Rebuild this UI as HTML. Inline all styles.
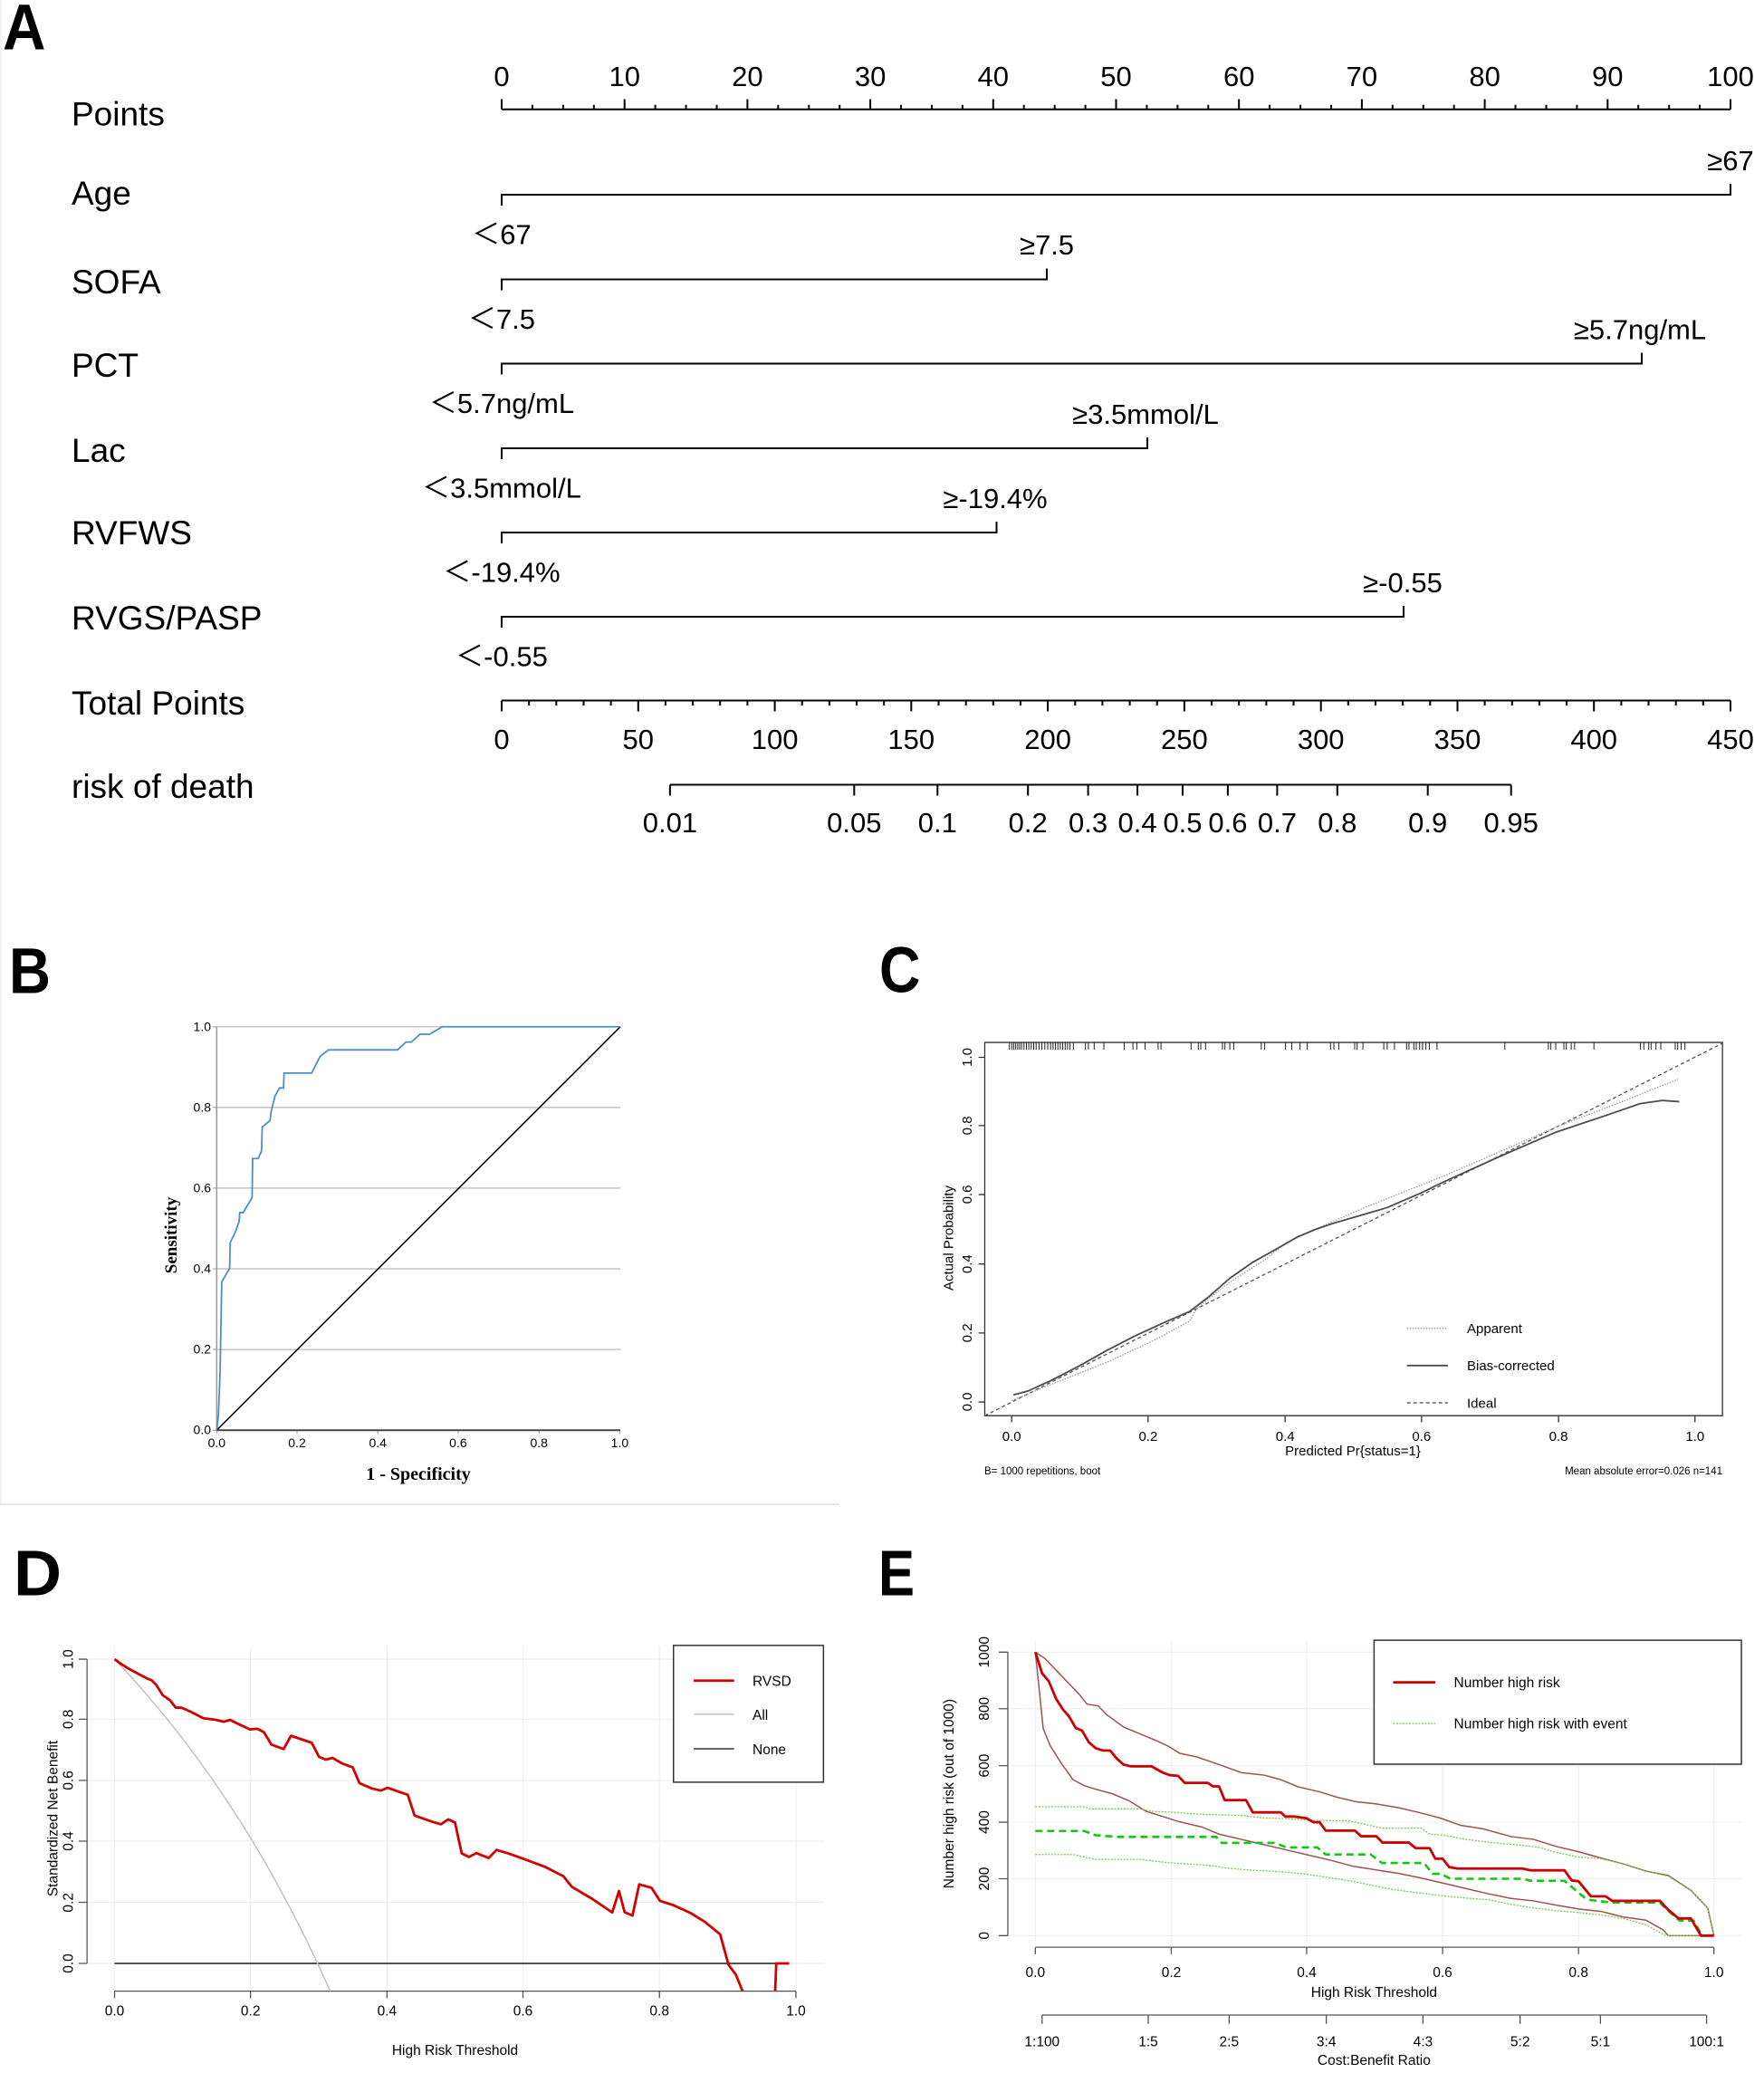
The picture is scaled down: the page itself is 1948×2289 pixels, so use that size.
<!DOCTYPE html>
<html><head><meta charset="utf-8"><style>
html,body{margin:0;padding:0;background:#fff;}
svg{display:block;}
text{font-family:"Liberation Sans","Noto Sans CJK SC",sans-serif;fill:#000;}
.z *{vector-effect:non-scaling-stroke;}
.serif{font-family:"Liberation Serif",serif;font-weight:bold;}
</style></head><body>
<svg width="1948" height="2289" viewBox="0 0 1948 2289" xmlns="http://www.w3.org/2000/svg">
<rect width="1948" height="2289" fill="#fff"/>
<line x1="1" y1="0" x2="1" y2="1662" stroke="#eeeeee" stroke-width="1.5"/>

<!-- Panel letters -->
<text x="3" y="54.3" font-size="71" font-weight="bold" textLength="47.5" lengthAdjust="spacingAndGlyphs">A</text>
<text x="10" y="1096.7" font-size="71" font-weight="bold" textLength="46" lengthAdjust="spacingAndGlyphs">B</text>
<text x="971" y="1095.5" font-size="71" font-weight="bold" textLength="45.5" lengthAdjust="spacingAndGlyphs">C</text>
<text x="15" y="1761.5" font-size="71" font-weight="bold" textLength="53" lengthAdjust="spacingAndGlyphs">D</text>
<text x="970" y="1761.5" font-size="71" font-weight="bold" textLength="40" lengthAdjust="spacingAndGlyphs">E</text>

<!-- ================= Panel A: nomogram ================= -->
<g font-size="37">
<text x="79" y="138.5">Points</text>
<text x="79" y="226">Age</text>
<text x="79" y="324">SOFA</text>
<text x="79" y="416">PCT</text>
<text x="79" y="510">Lac</text>
<text x="79" y="601">RVFWS</text>
<text x="79" y="695">RVGS/PASP</text>
<text x="79" y="789">Total Points</text>
<text x="79" y="881">risk of death</text>
</g>
<g stroke="#000" stroke-width="2" fill="none">
<!-- Points axis -->
<line x1="554" y1="120.7" x2="1911" y2="120.7"/>
<path d="M554,120.7V109.5 M689.7,120.7V109.5 M825.4,120.7V109.5 M961.1,120.7V109.5 M1096.8,120.7V109.5 M1232.5,120.7V109.5 M1368.2,120.7V109.5 M1503.9,120.7V109.5 M1639.6,120.7V109.5 M1775.3,120.7V109.5 M1911,120.7V109.5"/>
<path d="M587.9,120.7v-5 M621.9,120.7v-5 M655.8,120.7v-5 M723.6,120.7v-5 M757.6,120.7v-5 M791.5,120.7v-5 M859.3,120.7v-5 M893.3,120.7v-5 M927.2,120.7v-5 M995,120.7v-5 M1029,120.7v-5 M1062.9,120.7v-5 M1130.7,120.7v-5 M1164.7,120.7v-5 M1198.6,120.7v-5 M1266.4,120.7v-5 M1300.4,120.7v-5 M1334.3,120.7v-5 M1402.1,120.7v-5 M1436.1,120.7v-5 M1470,120.7v-5 M1537.8,120.7v-5 M1571.8,120.7v-5 M1605.7,120.7v-5 M1673.5,120.7v-5 M1707.5,120.7v-5 M1741.4,120.7v-5 M1809.2,120.7v-5 M1843.2,120.7v-5 M1877.1,120.7v-5"/>
<!-- variables -->
<path d="M554,227V215H1911V203"/>
<path d="M554,320.5V308.5H1156V296.5"/>
<path d="M554,413.5V401.5H1813V389.5"/>
<path d="M554,507V495H1267V483"/>
<path d="M554,600V588H1100.5V576"/>
<path d="M554,693V681H1550V669"/>
<!-- Total points -->
<line x1="554" y1="773.5" x2="1911" y2="773.5"/>
<path d="M554,773.5v12 M704.8,773.5v12 M855.6,773.5v12 M1006.3,773.5v12 M1157.1,773.5v12 M1307.9,773.5v12 M1458.7,773.5v12 M1609.5,773.5v12 M1760.2,773.5v12 M1911,773.5v12"/>
<path d="M584.2,773.5v5.5 M614.3,773.5v5.5 M644.5,773.5v5.5 M674.6,773.5v5.5 M734.9,773.5v5.5 M765.1,773.5v5.5 M795.2,773.5v5.5 M825.4,773.5v5.5 M885.7,773.5v5.5 M915.9,773.5v5.5 M946,773.5v5.5 M976.2,773.5v5.5 M1036.5,773.5v5.5 M1066.7,773.5v5.5 M1096.8,773.5v5.5 M1127,773.5v5.5 M1187.3,773.5v5.5 M1217.4,773.5v5.5 M1247.6,773.5v5.5 M1277.7,773.5v5.5 M1338.1,773.5v5.5 M1368.2,773.5v5.5 M1398.4,773.5v5.5 M1428.5,773.5v5.5 M1488.8,773.5v5.5 M1519,773.5v5.5 M1549.1,773.5v5.5 M1579.3,773.5v5.5 M1639.6,773.5v5.5 M1669.8,773.5v5.5 M1699.9,773.5v5.5 M1730.1,773.5v5.5 M1790.4,773.5v5.5 M1820.5,773.5v5.5 M1850.7,773.5v5.5 M1880.8,773.5v5.5"/>
<!-- risk -->
<line x1="739.9" y1="866.5" x2="1668.7" y2="866.5"/>
<path d="M739.9,866.5v12 M943.3,866.5v12 M1035.3,866.5v12 M1135.2,866.5v12 M1201.6,866.5v12 M1256.1,866.5v12 M1306,866.5v12 M1355.9,866.5v12 M1410.4,866.5v12 M1476.8,866.5v12 M1576.7,866.5v12 M1668.7,866.5v12"/>
</g>
<g font-size="31" text-anchor="middle">
<text x="554" y="95">0</text><text x="689.7" y="95">10</text><text x="825.4" y="95">20</text><text x="961.1" y="95">30</text><text x="1096.8" y="95">40</text><text x="1232.5" y="95">50</text><text x="1368.2" y="95">60</text><text x="1503.9" y="95">70</text><text x="1639.6" y="95">80</text><text x="1775.3" y="95">90</text><text x="1911" y="95">100</text>
<text x="1911" y="188">≥67</text>
<text x="554" y="269.5">＜67</text>
<text x="1156" y="281">≥7.5</text>
<text x="554" y="363">＜7.5</text>
<text x="1811" y="374.5">≥5.7ng/mL</text>
<text x="554" y="456">＜5.7ng/mL</text>
<text x="1265" y="468">≥3.5mmol/L</text>
<text x="554" y="549.5">＜3.5mmol/L</text>
<text x="1099" y="561">≥-19.4%</text>
<text x="554" y="642.5">＜-19.4%</text>
<text x="1549" y="654">≥-0.55</text>
<text x="554" y="735.5">＜-0.55</text>
<text x="554" y="827">0</text><text x="704.8" y="827">50</text><text x="855.6" y="827">100</text><text x="1006.3" y="827">150</text><text x="1157.1" y="827">200</text><text x="1307.9" y="827">250</text><text x="1458.7" y="827">300</text><text x="1609.5" y="827">350</text><text x="1760.2" y="827">400</text><text x="1911" y="827">450</text>
<text x="739.9" y="919">0.01</text><text x="943.3" y="919">0.05</text><text x="1035.3" y="919">0.1</text><text x="1135.2" y="919">0.2</text><text x="1201.6" y="919">0.3</text><text x="1256.1" y="919">0.4</text><text x="1306" y="919">0.5</text><text x="1355.9" y="919">0.6</text><text x="1410.4" y="919">0.7</text><text x="1476.8" y="919">0.8</text><text x="1576.7" y="919">0.9</text><text x="1668.7" y="919">0.95</text>
</g>

<!-- ================= Panel B: ROC ================= -->
<g stroke="#c4c4c4" stroke-width="1.5">
<line x1="239.3" y1="1133.8" x2="685" y2="1133.8"/>
<line x1="239.3" y1="1222.9" x2="685" y2="1222.9"/>
<line x1="239.3" y1="1311.9" x2="685" y2="1311.9"/>
<line x1="239.3" y1="1401" x2="685" y2="1401"/>
<line x1="239.3" y1="1490.1" x2="685" y2="1490.1"/>
</g>
<line x1="239.3" y1="1133.8" x2="239.3" y2="1579.2" stroke="#9a9a9a" stroke-width="1.5"/>
<g stroke="#9a9a9a" stroke-width="1">
<path d="M235,1133.8h4.3 M235,1222.9h4.3 M235,1311.9h4.3 M235,1401h4.3 M235,1490.1h4.3 M235,1579.2h4.3"/>
<path d="M239.3,1579.2v4 M328,1579.2v4 M417.2,1579.2v4 M505.9,1579.2v4 M595.2,1579.2v4 M684.4,1579.2v4"/>
</g>
<line x1="239.3" y1="1579.2" x2="685" y2="1579.2" stroke="#444" stroke-width="2"/>
<line x1="239.3" y1="1579.2" x2="685" y2="1133.8" stroke="#000" stroke-width="1.5"/>
<g class="z" transform="translate(0,1000) scale(0.62,0.4329)">
<polyline fill="none" stroke="#4a8fc8" stroke-width="1.8" points="386,1338 389,1300 392,1190 395,960 409,925 410,860 420,830 426,805 427,783 433,783 449,745 450,645 460,645 466,625 467,565 481,548 483,525 490,485 498,465 505,465 506,427 555,427 570,385 585,368 708,368 723,348 733,348 748,328 765,328 788,309 1104,309"/>
</g>
<g font-size="14" text-anchor="end" fill="#222">
<text x="233" y="1138.5">1.0</text>
<text x="233" y="1227.5">0.8</text>
<text x="233" y="1316.5">0.6</text>
<text x="233" y="1405.5">0.4</text>
<text x="233" y="1494.5">0.2</text>
<text x="233" y="1583.5">0.0</text>
</g>
<g font-size="14" text-anchor="middle">
<text x="239.3" y="1598">0.0</text><text x="328" y="1598">0.2</text><text x="417.2" y="1598">0.4</text><text x="505.9" y="1598">0.6</text><text x="595.2" y="1598">0.8</text><text x="684.4" y="1598">1.0</text>
</g>
<text class="serif" font-size="19" text-anchor="middle" transform="translate(195,1364) rotate(-90)">Sensitivity</text>
<text class="serif" font-size="20" text-anchor="middle" x="462" y="1634">1 - Specificity</text>
<line x1="0" y1="1661" x2="927" y2="1661" stroke="#e8e8e8" stroke-width="2"/>

<!-- ================= Panel C: calibration ================= -->
<g class="z" transform="translate(974,1000) scale(0.62,0.4329)" fill="none">
<rect x="183" y="349" width="1314" height="952" stroke="#333" stroke-width="1.3"/>
<path stroke="#333" stroke-width="1.3" d="M231,1301V1318 M474,1301V1318 M718,1301V1318 M961,1301V1318 M1205,1301V1318 M1448,1301V1318 M183,1266H172 M183,1090H172 M183,914H172 M183,737H172 M183,561H172 M183,387H172"/>
<line x1="183" y1="1301" x2="1497" y2="351" stroke="#555" stroke-width="1.3" stroke-dasharray="4,3"/>
<polyline stroke="#9d9d9d" stroke-width="1.3" stroke-dasharray="1.5,1.5" points="231,1262 300,1222 400,1165 480,1112 548,1060 560,1030 580,1005 620,960 680,905 720,860 780,820 860,770 1000,690 1100,628 1200,565 1300,510 1418,443"/>
<polyline stroke="#4d4d4d" stroke-width="1.8" points="234,1248 260,1238 300,1212 350,1175 400,1135 450,1098 500,1065 548,1035 580,1000 620,950 660,910 700,878 740,845 770,827 800,812 900,770 960,733 1000,705 1100,640 1200,578 1300,530 1350,505 1390,497 1420,500"/>
<line x1="935" y1="1078" x2="1008" y2="1078" stroke="#9d9d9d" stroke-width="1.3" stroke-dasharray="1.5,1.5"/>
<line x1="935" y1="1173" x2="1008" y2="1173" stroke="#4d4d4d" stroke-width="1.8"/>
<line x1="935" y1="1268" x2="1008" y2="1268" stroke="#555" stroke-width="1.3" stroke-dasharray="4,3"/>
</g>
<path stroke="#222" stroke-width="1" fill="none" d="M1114.8,1151v8 M1117.4,1151v8 M1119.6,1151v8 M1121.7,1151v8 M1123.9,1151v8 M1126,1151v8 M1128.1,1151v8 M1130.8,1151v8 M1133.5,1151v8 M1136.1,1151v8 M1138.8,1151v8 M1141.5,1151v8 M1144.2,1151v8 M1147.4,1151v8 M1150.6,1151v8 M1153.8,1151v8 M1157,1151v8 M1160.2,1151v8 M1162.9,1151v8 M1165.6,1151v8 M1168.2,1151v8 M1170.9,1151v8 M1173.6,1151v8 M1176.3,1151v8 M1178.9,1151v8 M1181.6,1151v8 M1185.3,1151v8 M1198.7,1151v8 M1201.9,1151v8 M1208.3,1151v8 M1219,1151v8 M1241.5,1151v8 M1251.1,1151v8 M1255.4,1151v8 M1264.5,1151v8 M1278.9,1151v8 M1282.1,1151v8 M1315.3,1151v8 M1323.3,1151v8 M1326,1151v8 M1331.3,1151v8 M1350,1151v8 M1352.7,1151v8 M1358.1,1151v8 M1362.4,1151v8 M1392.8,1151v8 M1396.6,1151v8 M1419.6,1151v8 M1426.5,1151v8 M1435.6,1151v8 M1443.6,1151v8 M1469.3,1151v8 M1473,1151v8 M1478.4,1151v8 M1496,1151v8 M1498.7,1151v8 M1505.1,1151v8 M1528.1,1151v8 M1531.9,1151v8 M1539.9,1151v8 M1553.3,1151v8 M1555.9,1151v8 M1561.3,1151v8 M1564,1151v8 M1567.7,1151v8 M1570.9,1151v8 M1574.6,1151v8 M1578.4,1151v8 M1586.9,1151v8 M1661.8,1151v8 M1709.9,1151v8 M1712.6,1151v8 M1718,1151v8 M1727,1151v8 M1729.7,1151v8 M1735.1,1151v8 M1738.8,1151v8 M1760.2,1151v8 M1811.6,1151v8 M1815.3,1151v8 M1820.7,1151v8 M1823.3,1151v8 M1828.7,1151v8 M1834,1151v8 M1850,1151v8 M1852.7,1151v8 M1856.5,1151v8 M1860.7,1151v8"/>
<g font-size="15" text-anchor="middle">
<text transform="translate(1073,1548) rotate(-90)">0.0</text>
<text transform="translate(1073,1471.9) rotate(-90)">0.2</text>
<text transform="translate(1073,1395.7) rotate(-90)">0.4</text>
<text transform="translate(1073,1319) rotate(-90)">0.6</text>
<text transform="translate(1073,1242.9) rotate(-90)">0.8</text>
<text transform="translate(1073,1167.5) rotate(-90)">1.0</text>
<text transform="translate(1052.5,1367) rotate(-90)">Actual Probability</text>
<text x="1117.2" y="1591">0.0</text><text x="1267.9" y="1591">0.2</text><text x="1419.2" y="1591">0.4</text><text x="1569.8" y="1591">0.6</text><text x="1721.1" y="1591">0.8</text><text x="1871.8" y="1591">1.0</text>
<text x="1494" y="1607">Predicted Pr{status=1}</text>
</g>
<g font-size="15">
<text x="1620" y="1472">Apparent</text>
<text x="1620" y="1513">Bias-corrected</text>
<text x="1620" y="1554.5">Ideal</text>
</g>
<text x="1087" y="1628" font-size="11.5">B= 1000 repetitions, boot</text>
<text x="1902" y="1628" font-size="11.5" text-anchor="end">Mean absolute error=0.026 n=141</text>

<!-- ================= Panel D: DCA ================= -->
<defs>
<clipPath id="clipD"><rect x="0" y="1790" width="960" height="409.5"/></clipPath>
</defs>
<g class="z" transform="translate(0,1680) scale(0.6203,0.3879)" fill="none">
<path stroke="#efefef" stroke-width="1.2" d="M204,355V1337 M446,355V1337 M689,355V1337 M931,355V1337 M1174,355V1337 M1417,355V1337 M155,392H1467 M155,563H1467 M155,737H1467 M155,910H1467 M155,1084H1467 M155,1258H1467"/>
<path stroke="#555" stroke-width="1.3" d="M155,392V1258 M140,392H155 M140,563H155 M140,737H155 M140,910H155 M140,1084H155 M140,1258H155"/>
<path stroke="#555" stroke-width="1.3" d="M204,1337H1417 M204,1337V1357 M446,1337V1357 M689,1337V1357 M931,1337V1357 M1174,1337V1357 M1417,1337V1357"/>
<line x1="204" y1="1258" x2="1405" y2="1258" stroke="#555" stroke-width="2"/>
<polyline stroke="#bdbdbd" stroke-width="1.4" points="204,392 228.3,433.6 252.5,477 276.8,522.2 301,569.4 325.3,618.7 349.6,670.3 373.8,724.1 398.1,780.7 422.3,839.9 446.6,902.1 470.9,967.5 495.1,1036.3 519.4,1108.9 543.6,1185.4 567.9,1266.4 587.9,1337"/>
<path stroke="#d40000" stroke-width="2.8" stroke-linejoin="round" d="M204,392 L215,405 230,420 250,437 262,447 270,452 278,465 290,495 302,508 313,530 323,530 340,542 362,560 385,565 398,570 410,565 425,577 445,592 458,590 470,600 483,635 505,648 518,610 555,630 568,670 580,678 592,673 608,688 628,700 640,745 662,760 678,766 690,758 726,778 738,837 770,855 785,862 798,848 810,857 822,945 835,955 848,944 870,958 884,935 905,945 935,962 970,983 1003,1010 1018,1040 1055,1075 1090,1113 1102,1052 1112,1112 1126,1122 1138,1033 1160,1043 1175,1080 1200,1093 1230,1115 1255,1140 1282,1175 1297,1262 1310,1290 1322,1337 M1380,1337 L1382,1258 1405,1258"/>
<rect x="1199" y="353" width="267" height="389" stroke="#333" stroke-width="1.5" fill="#fff"/>
<line x1="1235" y1="453" x2="1307" y2="453" stroke="#d40000" stroke-width="2.8"/>
<line x1="1235" y1="549" x2="1307" y2="549" stroke="#c8c8c8" stroke-width="1.6"/>
<line x1="1235" y1="647" x2="1307" y2="647" stroke="#666" stroke-width="2"/>
</g>
<g font-size="15.5">
<text x="831" y="1861.5">RVSD</text>
<text x="831" y="1899">All</text>
<text x="831" y="1937">None</text>
</g>
<g font-size="15.5" text-anchor="middle">
<text transform="translate(80.5,2168) rotate(-90)">0.0</text>
<text transform="translate(80.5,2100.8) rotate(-90)">0.2</text>
<text transform="translate(80.5,2033) rotate(-90)">0.4</text>
<text transform="translate(80.5,1965.9) rotate(-90)">0.6</text>
<text transform="translate(80.5,1898.4) rotate(-90)">0.8</text>
<text transform="translate(80.5,1832) rotate(-90)">1.0</text>
<text transform="translate(63.5,2008) rotate(-90)">Standardized Net Benefit</text>
<text x="126.5" y="2225.5">0.0</text><text x="276.7" y="2225.5">0.2</text><text x="427.4" y="2225.5">0.4</text><text x="577.5" y="2225.5">0.6</text><text x="728.2" y="2225.5">0.8</text><text x="879" y="2225.5">1.0</text>
<text x="502.5" y="2269">High Risk Threshold</text>
</g>

<!-- ================= Panel E: clinical impact ================= -->
<g class="z" transform="translate(974,1680) scale(0.6203,0.3879)" fill="none">
<path stroke="#efefef" stroke-width="1.2" d="M273,340V1195 M515,340V1195 M756,340V1195 M998,340V1195 M1240,340V1195 M1481,340V1195 M230,372H1530 M230,533H1530 M230,695H1530 M230,856H1530 M230,1017H1530 M230,1179H1530"/>
<path stroke="#555" stroke-width="1.3" d="M224,372V1179 M208,372H224 M208,533H224 M208,695H224 M208,856H224 M208,1017H224 M208,1179H224"/>
<path stroke="#555" stroke-width="1.3" d="M273,1212H1481 M273,1212V1232 M515,1212V1232 M756,1212V1232 M998,1212V1232 M1240,1212V1232 M1481,1212V1232"/>
<path stroke="#555" stroke-width="1.3" d="M285,1405H1468 M285,1405V1430 M474,1405V1430 M618,1405V1430 M791,1405V1430 M963,1405V1430 M1136,1405V1430 M1279,1405V1430 M1468,1405V1430"/>
<polyline stroke="#a0524c" stroke-width="1.5" points="273,372 290,390 305,415 320,440 335,465 350,490 365,520 385,525 400,550 430,585 460,605 490,625 510,640 530,660 560,670 600,692 640,715 680,722 710,735 740,755 780,770 810,785 845,798 880,804 920,815 960,830 995,845 1030,865 1070,875 1120,897 1160,905 1200,925 1240,940 1280,958 1320,975 1360,995 1400,1008 1440,1050 1470,1100 1481,1179"/>
<polyline stroke="#a0524c" stroke-width="1.5" points="273,372 280,480 287,590 300,640 320,690 340,735 360,752 380,762 410,775 440,795 470,825 500,840 530,855 570,870 600,890 640,905 680,920 720,935 760,950 800,965 840,982 880,992 920,1002 960,1015 1000,1030 1040,1045 1080,1060 1120,1073 1160,1080 1200,1092 1240,1103 1280,1110 1320,1126 1360,1135 1390,1162 1400,1179 1481,1179"/>
<polyline stroke="#6fcf4f" stroke-width="1.3" stroke-dasharray="2,1.5" points="273,812 360,812 370,818 460,818 480,825 520,828 560,833 640,837 680,844 720,846 770,851 830,852 860,862 890,873 960,873 975,890 1000,893 1040,905 1080,913 1140,922 1170,928 1200,942 1240,955 1280,960 1320,975 1360,995 1400,1010 1440,1050 1470,1100 1481,1179"/>
<polyline stroke="#6fcf4f" stroke-width="1.3" stroke-dasharray="2,1.5" points="273,948 340,948 360,955 380,962 460,962 490,968 515,972 590,980 610,986 660,993 720,998 760,1005 800,1015 840,1025 870,1035 900,1045 930,1052 970,1060 1010,1068 1040,1072 1080,1077 1120,1090 1160,1100 1200,1108 1240,1113 1280,1120 1320,1130 1360,1148 1395,1179 1481,1179"/>
<polyline stroke="#12c812" stroke-width="2.6" stroke-dasharray="8,5" points="273,881 360,881 380,893 420,898 595,898 605,915 700,915 720,928 775,928 790,948 870,948 890,972 965,972 980,1003 995,1003 1012,1017 1140,1017 1155,1023 1215,1023 1250,1070 1262,1078 1300,1085 1385,1085 1395,1102 1420,1136 1445,1136 1460,1179 1481,1179"/>
<polyline stroke="#cc0000" stroke-width="2.8" stroke-linejoin="round" points="273,372 285,432 297,455 310,505 322,535 333,555 345,588 356,595 368,628 380,645 393,652 406,652 418,675 430,692 443,697 480,697 500,715 512,722 527,724 539,744 580,744 589,754 600,754 610,793 648,793 660,828 710,828 718,840 735,840 756,845 768,856 779,856 790,880 842,880 853,896 880,896 891,914 938,914 950,930 975,930 985,960 998,960 1010,984 1025,988 1140,988 1155,993 1215,993 1228,1022 1240,1024 1262,1067 1288,1067 1300,1080 1385,1080 1398,1103 1418,1130 1440,1130 1458,1179 1481,1179"/>
<rect x="876" y="338" width="654" height="353" stroke="#333" stroke-width="1.5" fill="#fff"/>
<line x1="910" y1="458" x2="985" y2="458" stroke="#cc0000" stroke-width="2.8"/>
<line x1="910" y1="575" x2="985" y2="575" stroke="#6fcf4f" stroke-width="1.3" stroke-dasharray="2,1.5"/>
</g>
<g font-size="15.5">
<text x="1605.5" y="1863">Number high risk</text>
<text x="1605.5" y="1908.5">Number high risk with event</text>
</g>
<g font-size="15.5" text-anchor="middle">
<text transform="translate(1092,2137.3) rotate(-90)">0</text>
<text transform="translate(1092,2074.5) rotate(-90)">200</text>
<text transform="translate(1092,2012) rotate(-90)">400</text>
<text transform="translate(1092,1949.6) rotate(-90)">600</text>
<text transform="translate(1092,1886.8) rotate(-90)">800</text>
<text transform="translate(1092,1824.3) rotate(-90)">1000</text>
<text transform="translate(1053,1980.6) rotate(-90)">Number high risk (out of 1000)</text>
<text x="1143.3" y="2183">0.0</text><text x="1293.5" y="2183">0.2</text><text x="1443" y="2183">0.4</text><text x="1593" y="2183">0.6</text><text x="1743.2" y="2183">0.8</text><text x="1892.7" y="2183">1.0</text>
<text x="1517.4" y="2205">High Risk Threshold</text>
<text x="1150.8" y="2259.5">1:100</text><text x="1268" y="2259.5">1:5</text><text x="1357.3" y="2259.5">2:5</text><text x="1464.7" y="2259.5">3:4</text><text x="1571.4" y="2259.5">4:3</text><text x="1678.7" y="2259.5">5:2</text><text x="1767.4" y="2259.5">5:1</text><text x="1884.6" y="2259.5">100:1</text>
<text x="1517.4" y="2280">Cost:Benefit Ratio</text>
</g>
</svg>
</body></html>
